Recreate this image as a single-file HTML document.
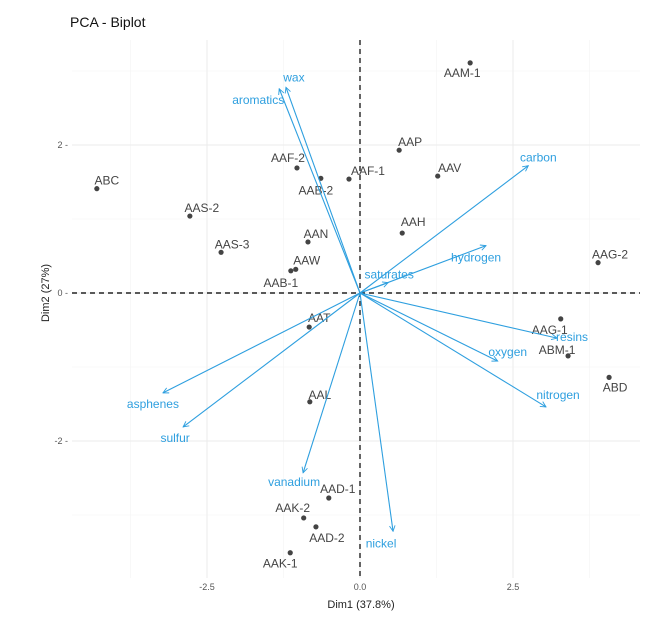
<!DOCTYPE html>
<html><head><meta charset="utf-8"><style>
body{margin:0;background:#fff;}
svg{font-family:"Liberation Sans",sans-serif;}
</style></head><body>
<svg id="c" width="650" height="620"></svg>
<script>
const pointNames=["ABC","AAS-2","AAS-3","AAF-2","AAB-2","AAF-1","AAN","AAW","AAB-1","AAM-1","AAP","AAV","AAH","AAG-2","AAG-1","ABM-1","ABD","AAT","AAL","AAD-1","AAK-2","AAD-2","AAK-1"];
const pointX=[-4.30,-2.78,-2.27,-1.03,-0.64,-0.18,-0.85,-1.05,-1.13,1.80,0.64,1.27,0.69,3.89,3.28,3.40,4.07,-0.83,-0.82,-0.51,-0.92,-0.72,-1.14];
const pointY=[1.41,1.04,0.55,1.69,1.55,1.54,0.69,0.32,0.30,3.11,1.93,1.58,0.81,0.41,-0.35,-0.85,-1.14,-0.46,-1.47,-2.77,-3.04,-3.16,-3.51];
const varNames=["wax","aromatics","carbon","hydrogen","saturates","resins","oxygen","nitrogen","asphenes","sulfur","vanadium","nickel"];
const varX=[-1.21,-1.32,2.75,2.06,0.46,3.22,2.25,3.04,-3.22,-2.89,-0.93,0.54];
const varY=[2.78,2.76,1.72,0.64,0.14,-0.61,-0.92,-1.54,-1.35,-1.81,-2.43,-3.22];
const xTicks=[-2.5,0,2.5], xTickLabels=["-2.5","0.0","2.5"];
const yTicks=[-2,0,2], yTickLabels=["-2","0","2"];
// label layout offsets (pixels)
const ptOff=[[10,-8],[12,-8],[11,-8],[-9,-10],[-5,12],[19,-8],[8,-8],[11,-9],[-10,12],[-8,10],[11,-8],[12,-8],[11,-11],[12,-8],[-11,11],[-11,-6],[6,10],[10,-9],[10,-7],[9,-9],[-11,-10],[11,11],[-10,11]];
const varOff=[[8,-10],[-21,11],[10,-8],[-10,12],[1,-8],[15,-1],[10,-9],[12,-12],[-10,11],[-8,11],[-9,9],[-12,12]];
const L=72,R=640,T=40,B=578;
const X=v=>360+v*61.2, Y=v=>293-v*74;
const NS="http://www.w3.org/2000/svg", svg=document.getElementById('c');
function mk(tag,attrs,parent){const e=document.createElementNS(NS,tag);for(const k in attrs)e.setAttribute(k,attrs[k]);(parent||svg).appendChild(e);return e;}
const defs=mk('defs',{});
const m=mk('marker',{id:'ah',viewBox:'0 0 10 10',refX:'9',refY:'5',markerWidth:'7',markerHeight:'7',orient:'auto-start-reverse',markerUnits:'userSpaceOnUse'},defs);
mk('path',{d:'M1,1 L9,5 L1,9',fill:'none',stroke:'#2E9FDF','stroke-width':'1.3'},m);
// grid
[-3.75,-1.25,1.25,3.75].forEach(v=>{const g=mk('line',{x1:X(v),x2:X(v),y1:T,y2:B,stroke:'#f3f3f3','stroke-width':'0.6'});});
[-3,-1,1,3].forEach(v=>{const g=mk('line',{x1:L,x2:R,y1:Y(v),y2:Y(v),stroke:'#f3f3f3','stroke-width':'0.6'});});
xTicks.forEach((v,i)=>{const g=mk('line',{x1:X(v),x2:X(v),y1:T,y2:B,stroke:'#ebebeb','stroke-width':'1'});
 const t=mk('text',{x:X(v),y:B+12,'font-size':'9','text-anchor':'middle',fill:'#555'});t.textContent=xTickLabels[i];});
yTicks.forEach((v,i)=>{const g=mk('line',{x1:L,x2:R,y1:Y(v),y2:Y(v),stroke:'#ebebeb','stroke-width':'1'});
 const t=mk('text',{x:L-4,y:Y(v)+3,'font-size':'9','text-anchor':'end',fill:'#555'});t.textContent=yTickLabels[i]+' -';});
// zero lines
let z=mk('line',{x1:X(0),x2:X(0),y1:T,y2:B,stroke:'#222','stroke-width':'1.4','stroke-dasharray':'5,4'});
z=mk('line',{x1:L,x2:R,y1:Y(0),y2:Y(0),stroke:'#222','stroke-width':'1.4','stroke-dasharray':'5,4'});
// points
pointNames.forEach((n,i)=>{const c=mk('circle',{cx:X(pointX[i]),cy:Y(pointY[i]),r:2.6,fill:'#444'});
 const t=mk('text',{x:X(pointX[i])+ptOff[i][0],y:Y(pointY[i])+ptOff[i][1]+4,'font-size':'12','text-anchor':'middle',fill:'#444'});t.textContent=n;});
// vectors
varNames.forEach((n,i)=>{const a=mk('line',{x1:X(0),y1:Y(0),x2:X(varX[i]),y2:Y(varY[i]),stroke:'#2E9FDF','stroke-width':'1.1','marker-end':'url(#ah)'});
 const t=mk('text',{x:X(varX[i])+varOff[i][0],y:Y(varY[i])+varOff[i][1]+4,'font-size':'12','text-anchor':'middle',fill:'#2E9FDF'});t.textContent=n;});
let t=mk('text',{x:70,y:27,'font-size':'14',fill:'#111'});t.textContent='PCA - Biplot';
t=mk('text',{x:361,y:608,'font-size':'11','text-anchor':'middle',fill:'#222'});t.textContent='Dim1 (37.8%)';
t=mk('text',{x:0,y:0,'font-size':'11','text-anchor':'middle',fill:'#222',transform:'translate(49,293) rotate(-90)'});t.textContent='Dim2 (27%)';
</script>
</body></html>
